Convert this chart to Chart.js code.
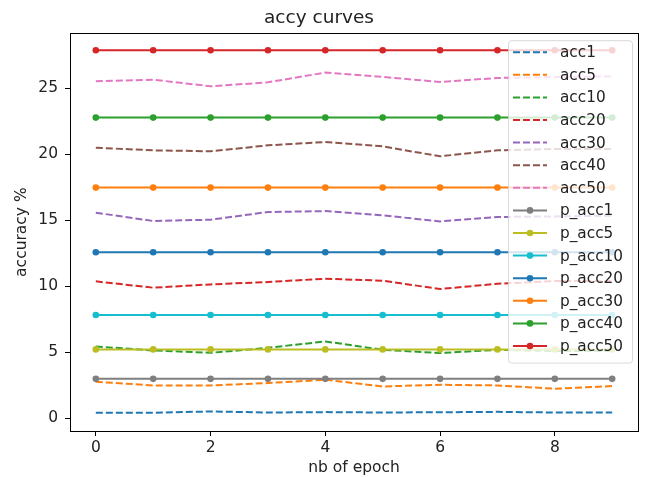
<!DOCTYPE html>
<html>
<head>
<meta charset="utf-8">
<script src="https://cdn.jsdelivr.net/npm/chart.js@4/dist/chart.umd.min.js"></script>
<style>
  body { margin: 0; background: #fff; }
  #wrap { width: 651px; height: 477px; position: relative; }
</style>
</head>
<body>
<div id="wrap"><canvas id="chart" width="651" height="477"></canvas></div>
<script>
// epochs on the x axis
const epochs = [0, 1, 2, 3, 4, 5, 6, 7, 8, 9];
const xTicks = [0, 2, 4, 6, 8];
const yTicks = [0, 5, 10, 15, 20, 25];

// dashed curves
const acc1 = [0.43, 0.43, 0.53, 0.45, 0.48, 0.45, 0.47, 0.5, 0.45, 0.45];
const acc5 = [2.78, 2.5, 2.5, 2.68, 2.93, 2.42, 2.55, 2.5, 2.25, 2.45];
const acc10 = [5.45, 5.15, 4.97, 5.35, 5.83, 5.2, 4.95, 5.2, 5.1, 5.1];
const acc20 = [10.38, 9.9, 10.15, 10.33, 10.58, 10.43, 9.8, 10.2, 10.4, 10.4];
const acc30 = [15.58, 14.95, 15.05, 15.63, 15.7, 15.38, 14.92, 15.25, 15.3, 15.35];
const acc40 = [20.5, 20.3, 20.23, 20.68, 20.93, 20.6, 19.85, 20.3, 20.4, 20.4];
const acc50 = [25.53, 25.65, 25.15, 25.45, 26.19, 25.86, 25.48, 25.78, 25.85, 25.9];

// solid curves with markers
const p_acc1 = [3.0, 3.0, 3.0, 3.0, 3.0, 3.0, 3.0, 3.0, 3.0, 3.0];
const p_acc5 = [5.23, 5.23, 5.23, 5.23, 5.23, 5.23, 5.23, 5.23, 5.23, 5.23];
const p_acc10 = [7.83, 7.83, 7.83, 7.83, 7.83, 7.83, 7.83, 7.83, 7.83, 7.83];
const p_acc20 = [12.58, 12.58, 12.58, 12.58, 12.58, 12.58, 12.58, 12.58, 12.58, 12.58];
const p_acc30 = [17.48, 17.48, 17.48, 17.48, 17.48, 17.48, 17.48, 17.48, 17.48, 17.48];
const p_acc40 = [22.78, 22.78, 22.78, 22.78, 22.78, 22.78, 22.78, 22.78, 22.78, 22.78];
const p_acc50 = [27.88, 27.88, 27.88, 27.88, 27.88, 27.88, 27.88, 27.88, 27.88, 27.88];

const series = [
  ["acc1", acc1, "#1f77b4", true],
  ["acc5", acc5, "#ff7f0e", true],
  ["acc10", acc10, "#2ca02c", true],
  ["acc20", acc20, "#d62728", true],
  ["acc30", acc30, "#9467bd", true],
  ["acc40", acc40, "#8c564b", true],
  ["acc50", acc50, "#e377c2", true],
  ["p_acc1", p_acc1, "#7f7f7f", false],
  ["p_acc5", p_acc5, "#bcbd22", false],
  ["p_acc10", p_acc10, "#17becf", false],
  ["p_acc20", p_acc20, "#1f77b4", false],
  ["p_acc30", p_acc30, "#ff7f0e", false],
  ["p_acc40", p_acc40, "#2ca02c", false],
  ["p_acc50", p_acc50, "#d62728", false],
];

const FONT = "'DejaVu Sans', sans-serif";
const DASH = [7, 3];

const datasets = series.map(([label, values, color, dashed], i) => ({
  label,
  data: values.map((v, k) => ({ x: epochs[k], y: v })),
  borderColor: color,
  backgroundColor: color,
  borderWidth: 2,
  borderDash: dashed ? DASH : [],
  pointRadius: dashed ? 0 : 3.3,
  pointBorderWidth: 0,
  tension: 0,
  order: series.length - i, // later series drawn on top, like matplotlib
}));

// box around the plot area
const frame = {
  id: "frame",
  afterDraw(chart) {
    const { ctx, chartArea: a } = chart;
    ctx.save();
    ctx.strokeStyle = "#000";
    ctx.lineWidth = 1;
    ctx.strokeRect(Math.round(a.left) + 0.5, Math.round(a.top) + 0.5,
      Math.round(a.right - a.left), Math.round(a.bottom - a.top));
    ctx.restore();
  },
};

// matplotlib style legend inside the plot, upper right
const innerLegend = {
  id: "innerLegend",
  afterDatasetsDraw(chart) {
    const { ctx, chartArea: a } = chart;
    const rowH = 22.6;
    const w = 124, h = series.length * rowH + 6;
    const x = a.right - 6 - w, y = a.top + 7;
    ctx.save();
    ctx.globalAlpha = 0.8;
    ctx.fillStyle = "#fff";
    ctx.strokeStyle = "#d0d0d0";
    ctx.lineWidth = 1;
    ctx.beginPath();
    ctx.roundRect(x + 0.5, y + 0.5, w, h, 3);
    ctx.fill();
    ctx.stroke();
    ctx.globalAlpha = 1;
    ctx.font = "15.3px " + FONT;
    ctx.textBaseline = "middle";
    series.forEach(([label, , color, dashed], i) => {
      const cy = y + 12 + i * rowH;
      ctx.strokeStyle = color;
      ctx.fillStyle = color;
      ctx.lineWidth = 2;
      ctx.setLineDash(dashed ? DASH : []);
      ctx.beginPath();
      ctx.moveTo(x + 5, cy);
      ctx.lineTo(x + 39, cy);
      ctx.stroke();
      ctx.setLineDash([]);
      if (!dashed) {
        ctx.beginPath();
        ctx.arc(x + 22, cy, 3.3, 0, Math.PI * 2);
        ctx.fill();
      }
      ctx.fillStyle = "#222";
      ctx.fillText(label, x + 52, cy + 1);
    });
    ctx.restore();
  },
};

new Chart(document.getElementById("chart"), {
  type: "line",
  data: { datasets },
  plugins: [frame, innerLegend],
  options: {
    responsive: false,
    animation: false,
    layout: { padding: { left: 0, right: 13, top: 0, bottom: 0 } },
    plugins: {
      legend: { display: false },
      tooltip: { enabled: false },
      title: {
        display: true,
        text: "accy curves",
        color: "#222",
        font: { family: FONT, size: 18.5, weight: "normal" },
        padding: { top: 7, bottom: 4 },
      },
    },
    scales: {
      x: {
        type: "linear",
        min: -0.45,
        max: 9.45,
        afterBuildTicks: (s) => { s.ticks = xTicks.map((v) => ({ value: v })); },
        afterFit: (s) => { s.height = 46; },
        grid: { display: true, drawOnChartArea: false, drawTicks: true, tickLength: 5, color: "#000" },
        border: { display: false },
        ticks: { color: "#222", font: { family: FONT, size: 15.5 }, padding: 3, maxRotation: 0 },
        title: {
          display: true,
          text: "nb of epoch",
          color: "#222",
          font: { family: FONT, size: 15.5 },
          padding: { top: 4, bottom: 0 },
        },
      },
      y: {
        min: -0.95,
        max: 29.17,
        afterBuildTicks: (s) => { s.ticks = yTicks.map((v) => ({ value: v })); },
        afterFit: (s) => { s.width = 70; },
        grid: { display: true, drawOnChartArea: false, drawTicks: true, tickLength: 5, color: "#000" },
        border: { display: false },
        ticks: { color: "#222", font: { family: FONT, size: 15.5 }, padding: 7 },
        title: {
          display: true,
          text: "accuracy %",
          color: "#222",
          font: { family: FONT, size: 15.5 },
          padding: { top: 13, bottom: 0 },
        },
      },
    },
  },
});
</script>
</body>
</html>
